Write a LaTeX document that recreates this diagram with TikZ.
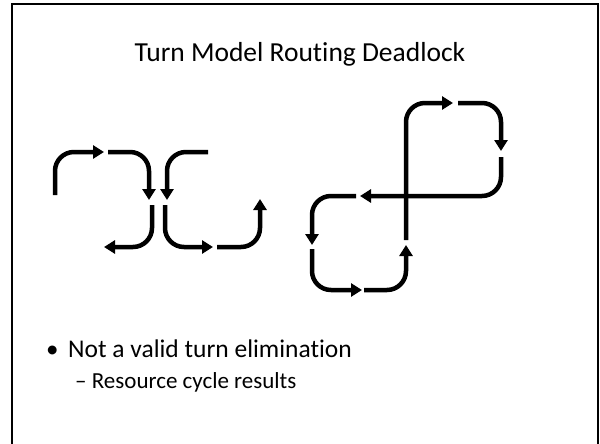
\documentclass[tikz,border=0pt]{standalone}
\usepackage{fontspec}
\setmainfont{Carlito}[RawFeature=-liga]
\usetikzlibrary{arrows.meta}
\begin{document}
\begin{tikzpicture}[x=1pt,y=-1pt,
  route/.style={line width=4.5pt, rounded corners=19pt, -{Triangle[length=11pt,width=13pt]}},
  frameline/.style={line width=2pt},
  txt/.style={inner sep=0pt, anchor=base west}]
\useasboundingbox (0,0) rectangle (600,444);
\draw[frameline] (11.5,444) -- (11.5,4) -- (598,4) -- (598,444);
\node[inner sep=0pt, anchor=base] (title) at (300,62) {\fontsize{27.5}{32}\selectfont Turn Model Routing Deadlock};
\node[txt] (b1) at (46,357) {\fontsize{25}{29}\selectfont •};
\node[txt] (t1) at (68,357) {\fontsize{25.5}{29}\selectfont Not a valid turn elimination};
\node[txt] (t2) at (75,388) {\fontsize{23}{27}\selectfont – Resource cycle results};
% left figure
\coordinate (a0) at (55,195); \coordinate (a1) at (55,152); \coordinate (a2) at (104,152);
\draw[route] (a0) -- (a1) -- (a2);
\coordinate (b0) at (108,152); \coordinate (b1c) at (149,152); \coordinate (b2) at (149,200);
\draw[route] (b0) -- (b1c) -- (b2);
\coordinate (c0) at (208,152); \coordinate (c1) at (167,152); \coordinate (c2) at (167,200);
\draw[route] (c0) -- (c1) -- (c2);
\coordinate (d0) at (152,205); \coordinate (d1) at (152,247); \coordinate (d2) at (104,247);
\draw[route] (d0) -- (d1) -- (d2);
\coordinate (e0) at (165,205); \coordinate (e1) at (165,247); \coordinate (e2) at (213,247);
\draw[route] (e0) -- (e1) -- (e2);
\coordinate (f0) at (217,247); \coordinate (f1) at (260,247); \coordinate (f2) at (260,199);
\draw[route] (f0) -- (f1) -- (f2);
% right figure
\coordinate (g0) at (406,240); \coordinate (g1) at (406,103); \coordinate (g2) at (453,103);
\draw[route] (g0) -- (g1) -- (g2);
\coordinate (h0) at (458,103); \coordinate (h1) at (501,103); \coordinate (h2) at (501,151);
\draw[route] (h0) -- (h1) -- (h2);
\coordinate (i0) at (501,157); \coordinate (i1) at (501,196); \coordinate (i2) at (360,196);
\draw[route] (i0) -- (i1) -- (i2);
\coordinate (j0) at (356,196); \coordinate (j1) at (312,196); \coordinate (j2) at (312,245);
\draw[route] (j0) -- (j1) -- (j2);
\coordinate (k0) at (312,249); \coordinate (k1) at (312,290); \coordinate (k2) at (362,290);
\draw[route] (k0) -- (k1) -- (k2);
\coordinate (l0) at (364,290); \coordinate (l1) at (406,290); \coordinate (l2) at (406,245);
\draw[route] (l0) -- (l1) -- (l2);
\end{tikzpicture}
\end{document}
